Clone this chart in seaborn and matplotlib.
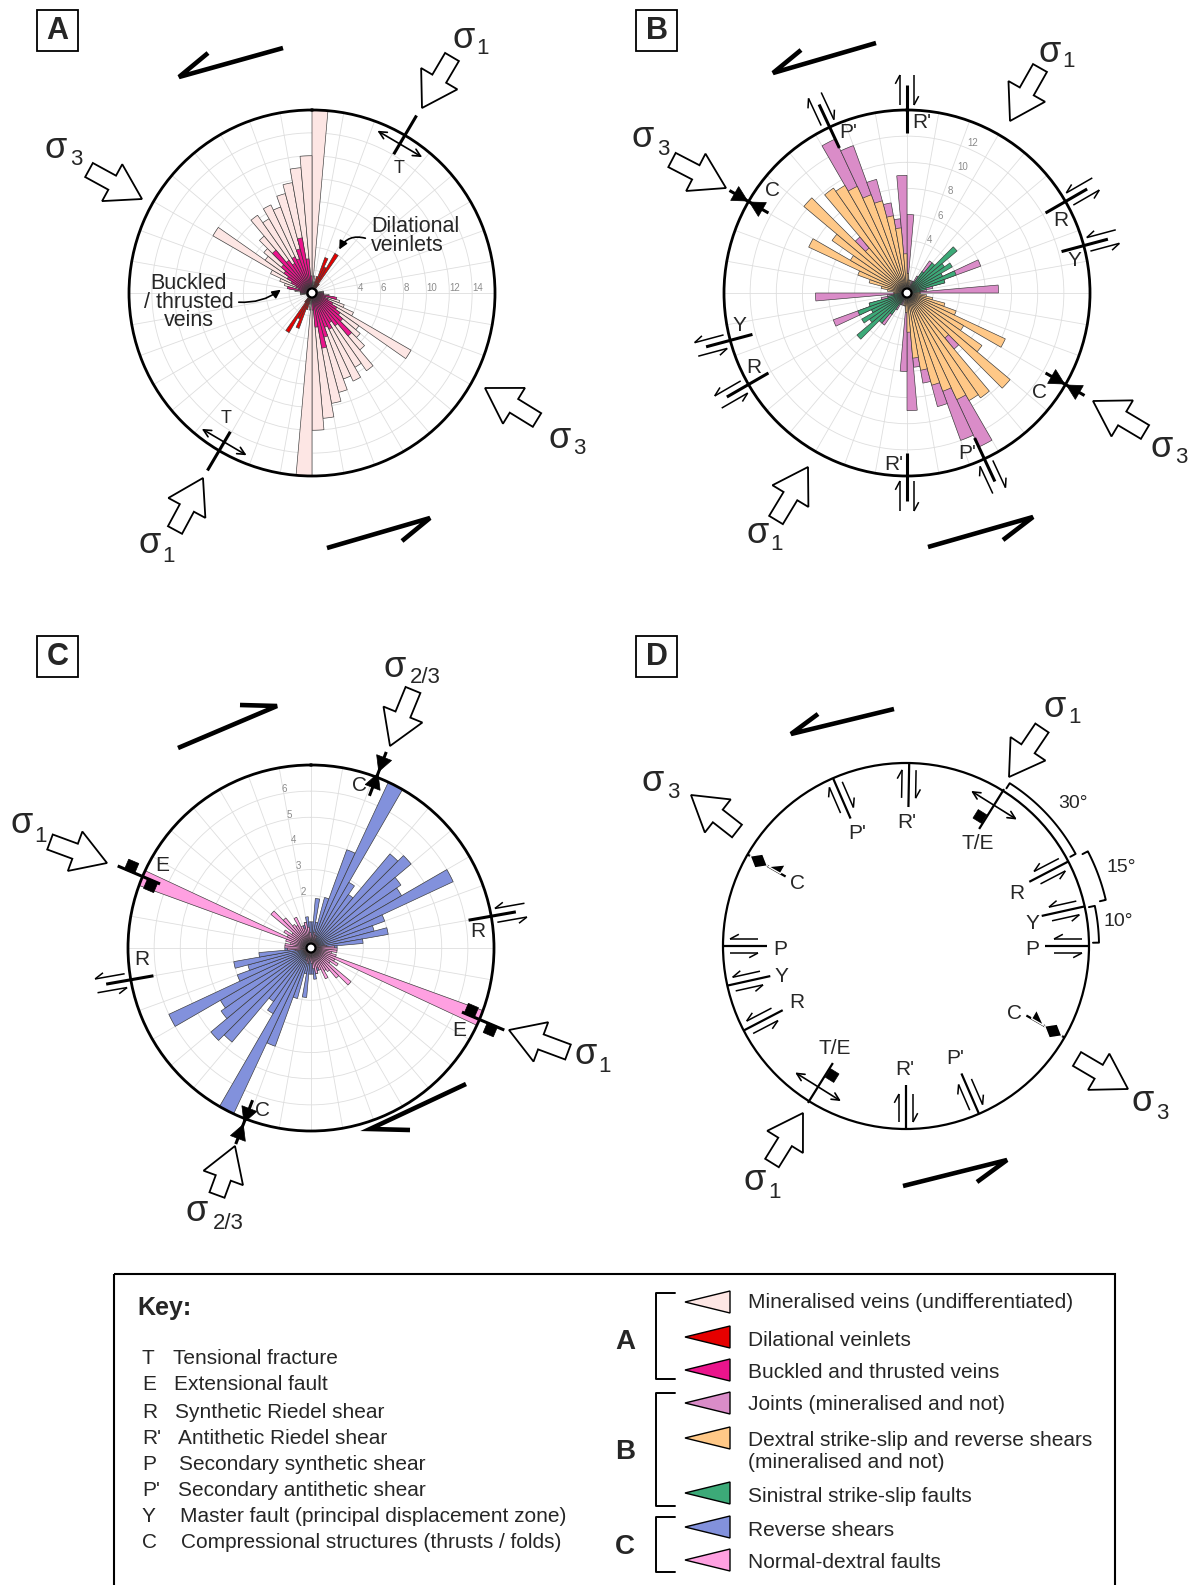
import numpy as np
import matplotlib
matplotlib.use("Agg")
import matplotlib.pyplot as plt
import seaborn as sns
from matplotlib.patches import Polygon, Rectangle, Circle, FancyArrowPatch

sns.set_theme(style="white")
plt.rcParams["font.family"] = ["Liberation Sans", "DejaVu Sans"]

# ---------------- data (5-degree bins 0..175, mirrored through 180) ----------------
bin_start_deg = list(range(0, 180, 5))

A_mineralised = [16, 1.5, 1, 0.5, 0.5, 0.5, 1, 0.5, 0.5, 0.5, 0.5, 0.5, 0.5, 0.5, 0.5, 0.5, 1, 1,
                 1, 1.5, 2, 2.5, 3, 4, 10, 5, 5.5, 6.5, 8.3, 7.5, 8.5, 8, 9, 9.8, 11, 12]
A_dilational = [0, 0, 0, 1.5, 3.3, 2.5, 4, 1, 0, 0, 0, 0, 0, 0, 0, 0, 0, 0,
                0, 0, 0, 0, 0, 0, 0, 0, 0, 0, 0, 0, 0, 0, 0, 0, 0, 0]
A_buckled = [0.5, 0, 0, 0, 0, 0, 0, 0, 0, 0, 0, 0, 0, 0, 0, 0, 0, 0.5,
             1, 1, 2.2, 1.2, 1.5, 2, 2.5, 3, 3.5, 4.9, 3.5, 3, 3.5, 3.2, 4, 4.9, 3, 1.5]

B_joints = [6, 1, 1, 0.5, 1, 1, 1.5, 3, 2, 1.5, 2, 2.5, 3, 6, 3, 2, 1.5, 7,
            1, 1, 1, 1.5, 1.5, 2, 3, 4, 5, 5.6, 5, 8, 13, 12, 9, 7, 5.7, 9]
B_dextral = [1.5, 1, 1, 0.5, 0.5, 0.5, 0.5, 0.5, 0.5, 0.5, 0.5, 0.5, 0.5, 0.5, 0.5, 0.5, 1, 1,
             1, 1.5, 2, 3, 4, 8.3, 5, 7, 10.3, 4.5, 9.8, 9.5, 9, 8, 7.3, 6, 5, 3]
B_sinistral = [0, 0, 0, 0, 0, 0.5, 1, 2, 3, 5, 3.5, 4, 3, 4, 3, 1.5, 1, 0.5,
               0, 0.5, 0, 0, 0, 0, 0, 0, 0, 0, 0, 0, 0, 0, 0, 0, 0, 0]

C_reverse = [1, 1.9, 1, 2, 4, 7, 2.9, 2.5, 4.7, 5, 4.2, 4, 6, 3, 2.5, 3, 2, 1,
             0.8, 0.6, 0.5, 0.5, 0.5, 0.6, 0.6, 0.7, 0.6, 0.7, 0.8, 0.8, 0.6, 0.8, 0.9, 1, 1.2, 1]
C_normal = [0.5, 0.3, 0.6, 0.4, 0.5, 0.3, 0.3, 0.3, 0.3, 0.3, 0.3, 0.3, 0.3, 0.3, 0.3, 0.3, 0.6, 0.9,
            1, 1, 0.8, 1, 7, 1, 1.2, 0.9, 2, 1.5, 1.1, 1, 1.3, 0.9, 0.8, 1, 0.8, 0.6]

A_rticks = [2, 4, 6, 8, 10, 12, 14]
A_rlabels = ["", "4", "6", "8", "10", "12", "14"]
B_rticks = [2, 4, 6, 8, 10, 12]
B_rlabels = ["", "4", "6", "8", "10", "12"]
C_rticks = [1, 2, 3, 4, 5, 6]
C_rlabels = ["", "2", "3", "4", "5", "6"]

key_letters = ["T", "E", "R", "R'", "P", "P'", "Y", "C"]
key_descs = ["Tensional fracture", "Extensional fault", "Synthetic Riedel shear",
             "Antithetic Riedel shear", "Secondary synthetic shear", "Secondary antithetic shear",
             "Master fault (principal displacement zone)", "Compressional structures (thrusts / folds)"]
legend_names = ["Mineralised veins (undifferentiated)", "Dilational veinlets", "Buckled and thrusted veins",
                "Joints (mineralised and not)", "Dextral strike-slip and reverse shears",
                "Sinistral strike-slip faults", "Reverse shears", "Normal-dextral faults"]
legend_extra = "(mineralised and not)"
colors = {"min": "#FDE6E4", "dil": "#E60000", "buck": "#EB148C", "joint": "#DA8CC8",
          "dex": "#FFC887", "sin": "#3CAA78", "rev": "#8291DC", "norm": "#FFA0E1"}
legend_colors = [colors[k] for k in ["min", "dil", "buck", "joint", "dex", "sin", "rev", "norm"]]

# ---------------- figure ----------------
W, H = 1192, 1585
fig = plt.figure(figsize=(W / 100, H / 100), dpi=100)
R0 = 183
cA, cB, cC, cD = (312, 293), (907, 293), (311, 948), (906, 946)


def rose(c, rmax, layers, rticks, rlabels, rang):
    cx, cy = c
    ax = fig.add_axes([(cx - R0) / W, (H - cy - R0) / H, 2 * R0 / W, 2 * R0 / H], projection="polar")
    ax.set_theta_zero_location("N")
    ax.set_theta_direction(-1)
    theta = np.deg2rad(np.array(bin_start_deg + [b + 180 for b in bin_start_deg], float))
    for vals, col, z in layers:
        h = np.array(list(vals) + list(vals), float)
        m = h > 0
        ax.bar(theta[m], h[m], width=np.deg2rad(5), align="edge", color=col,
               edgecolor="#383838", linewidth=0.45, zorder=z)
    ax.set_ylim(0, rmax)
    ang = np.arange(0, 360, 10)
    ax.set_thetagrids(ang, labels=[""] * len(ang))
    ax.set_rgrids(rticks, labels=rlabels, angle=rang)
    ax.tick_params(axis="y", labelsize=7, labelcolor="#8c8c8c", pad=0)
    ax.grid(True, color="#dedede", linewidth=0.6)
    ax.set_axisbelow(True)
    ax.set_facecolor("white")
    sp = ax.spines["polar"]
    sp.set_linewidth(2.0)
    sp.set_color("black")
    sp.set_zorder(10)
    return ax


rose(cA, 16, [(A_mineralised, colors["min"], 2), (A_buckled, colors["buck"], 3),
              (A_dilational, colors["dil"], 4)], A_rticks, A_rlabels, 90)
rose(cB, 14, [(B_joints, colors["joint"], 2), (B_dextral, colors["dex"], 3),
              (B_sinistral, colors["sin"], 4)], B_rticks, B_rlabels, 22.6)
rose(cC, 7, [(C_reverse, colors["rev"], 2), (C_normal, colors["norm"], 3)],
     C_rticks, C_rlabels, 349)

ov = fig.add_axes([0, 0, 1, 1])
ov.set_xlim(0, W)
ov.set_ylim(H, 0)
ov.axis("off")
ov.set_zorder(20)
ov.patch.set_alpha(0)


def P(c, r, az):
    a = np.deg2rad(az)
    return np.array([c[0] + r * np.sin(a), c[1] - r * np.cos(a)])


def Uv(az):
    a = np.deg2rad(az)
    return np.array([np.sin(a), -np.cos(a)])


def Tv(az):
    a = np.deg2rad(az)
    return np.array([np.cos(a), np.sin(a)])


def seg(p, q, lw=2.0):
    ov.plot([p[0], q[0]], [p[1], q[1]], color="black", lw=lw, solid_capstyle="butt", zorder=6)


def harpoon(p, q, side, lw=1.1, barb=10, ang=28):
    seg(p, q, lw)
    d = (q - p) / np.linalg.norm(q - p)
    a = np.deg2rad(ang)
    b = q - barb * np.cos(a) * d + barb * np.sin(a) * side
    seg(q, b, lw)


def lab(c, r, az, s, fs=15):
    x, y = P(c, r, az)
    ov.text(x, y, s, fontsize=fs, ha="center", va="center", zorder=7)


def shear(c, az, kind, inside, text, lr, laz, line_lw=2.2, harp_lw=1.1, off=7, fs=15):
    if inside:
        r1, r2, a1, a2 = R0 - 44, R0, R0 - 35, R0 - 7
    else:
        r1, r2, a1, a2 = R0 - 23, R0 + 25, R0 + 5, R0 + 35
    seg(P(c, r1, az), P(c, r2, az), line_lw)
    t = Tv(az)
    for s in (-1, 1):
        outward = (s == 1) if kind == "syn" else (s == -1)
        pa = P(c, a1, az) + s * off * t
        pb = P(c, a2, az) + s * off * t
        if outward:
            harpoon(pa, pb, s * t, harp_lw)
        else:
            harpoon(pb, pa, s * t, harp_lw)
    lab(c, lr, laz, text, fs)


def sq(ctr, size, az):
    u, t = Uv(az), Tv(az)
    h = size / 2
    pts = [ctr + h * u + h * t, ctr + h * u - h * t, ctr - h * u - h * t, ctr - h * u + h * t]
    ov.add_patch(Polygon(pts, closed=True, fc="black", ec="black", lw=0.5, zorder=7))


def tension(c, az, r1, r2, ra, L, lw=2.2, square=None):
    seg(P(c, r1, az), P(c, r2, az), lw)
    m = P(c, ra, az)
    t = Tv(az)
    ov.annotate("", xy=tuple(m + L / 2 * t), xytext=tuple(m - L / 2 * t),
                arrowprops=dict(arrowstyle="<->,head_length=0.45,head_width=0.22", color="black",
                                lw=1.2, shrinkA=0, shrinkB=0), zorder=7)
    if square is not None:
        rs, offs, size = square
        sq(P(c, rs, az) + offs * t, size, az)


def tri(m, u, t, L, hw, sign):
    pts = [m + sign * 1 * u, m + sign * L * u + hw * t, m + sign * L * u - hw * t]
    ov.add_patch(Polygon(pts, closed=True, fc="black", ec="black", lw=0.5, zorder=7))


def comp(c, az, r1, r2, rm, lw=2.2, L=16, hw=8):
    seg(P(c, r1, az), P(c, r2, az), lw)
    u, t = Uv(az), Tv(az)
    m = P(c, rm, az)
    tri(m, u, t, L, hw, 1)
    tri(m, u, t, L, hw, -1)


def efault(c, az, r1, r2):
    seg(P(c, r1, az), P(c, r2, az), 2.2)
    t = Tv(az)
    sq(P(c, 197, az) + 5 * t, 11, az)
    sq(P(c, 172, az) - 5 * t, 11, az)


def block(tip, tail, hl=34, hw=42, sw=16):
    tip = np.array(tip, float)
    tail = np.array(tail, float)
    d = tip - tail
    d /= np.linalg.norm(d)
    n = np.array([-d[1], d[0]])
    base = tip - hl * d
    pts = [tail + sw / 2 * n, base + sw / 2 * n, base + hw / 2 * n, tip,
           base - hw / 2 * n, base - sw / 2 * n, tail - sw / 2 * n]
    ov.add_patch(Polygon(pts, closed=True, fc="white", ec="black", lw=1.3, joinstyle="miter", zorder=8))


def sigma(sx, sy, sub, bx, by):
    ov.text(sx, sy, "σ", fontsize=26, ha="center", va="baseline", zorder=8)
    ov.text(bx + 1, by, sub, fontsize=16, ha="center", va="baseline", zorder=8)


def sense(tail, tip, barb):
    ov.plot([tail[0], tip[0], barb[0]], [tail[1], tip[1], barb[1]], color="black", lw=3.3,
            solid_joinstyle="miter", solid_capstyle="butt", zorder=6)


def panel_box(x, y, letter):
    ov.add_patch(Rectangle((x, y), 41, 41, fill=False, ec="black", lw=1.3, zorder=8))
    ov.text(x + 20.5, y + 21, letter, fontsize=22, fontweight="bold", ha="center", va="center", zorder=8)


# centre dots
for c in (cA, cB, cC):
    ov.add_patch(Circle(c, 4.5, fc="white", ec="black", lw=1.6, zorder=9))

# D circle
ov.add_patch(Circle(cD, R0, fill=False, ec="black", lw=1.6, zorder=5))

# panel letters
panel_box(37, 10, "A")
panel_box(636, 10, "B")
panel_box(37, 636, "C")
panel_box(636, 636, "D")

# ---- shear sense half arrows ----
sense((283, 48), (179, 77), (208, 53))
sense((327, 548), (430, 518), (402, 541))
sense((876, 43), (773, 73), (801, 50))
sense((928, 547), (1033, 517), (1003, 540))
sense((178, 748), (277, 706), (240, 705))
sense((466, 1084), (370, 1129), (410, 1130))
sense((894, 709), (791, 734), (818, 714))
sense((903, 1186), (1007, 1160), (977, 1182))

# ---- stress arrows and labels ----
block((422, 108), (452, 57)); sigma(464, 48, "1", 482, 54)
block((142, 199), (89, 170)); sigma(56, 158, "3", 75, 165)
block((203, 478), (175, 530)); sigma(150, 553, "1", 168, 562)
block((485, 388), (537, 420)); sigma(560, 448, "3", 578, 454)

block((1010, 121), (1040, 68)); sigma(1050, 62, "1", 1068, 67)
block((726, 188), (672, 160)); sigma(643, 147, "3", 662, 155)
block((808, 467), (776, 520)); sigma(758, 543, "1", 775, 550)
block((1093, 401), (1145, 432)); sigma(1162, 457, "3", 1180, 463)

block((390, 746), (413, 690)); sigma(395, 677, "2/3", 424, 683)
block((107, 863), (50, 842)); sigma(22, 833, "1", 39, 842)
block((509, 1030), (568, 1052)); sigma(586, 1064, "1", 604, 1072)
block((235, 1146), (217, 1195)); sigma(197, 1221, "2/3", 227, 1229)

block((1009, 777), (1042, 728)); sigma(1055, 717, "1", 1073, 723)
block((691, 795), (737, 831)); sigma(653, 791, "3", 672, 798)
block((1128, 1089), (1077, 1059)); sigma(1143, 1111, "3", 1161, 1119)
block((803, 1113), (772, 1163)); sigma(755, 1190, "1", 774, 1198)

# ---- panel A markers ----
tension(cA, 30.5, 161, 206, 173, 52)
lab(cA, 152, 35, "T", 13)
tension(cA, 210.5, 161, 206, 173, 52)
lab(cA, 152, 214.5, "T", 13)
ov.text(371, 236, "Dilational\nveinlets", fontsize=15.5, ha="left", va="center", linespacing=0.92, zorder=8)
ov.add_patch(FancyArrowPatch((368, 239), (338, 252), connectionstyle="arc3,rad=0.45",
                             arrowstyle="-|>,head_length=5,head_width=2.5", color="black", lw=1.2, zorder=8))
ov.text(189, 302, "Buckled\n/ thrusted\nveins", fontsize=15.5, ha="center", va="center", linespacing=0.85, zorder=8)
ov.add_patch(FancyArrowPatch((236, 302), (283, 288), connectionstyle="arc3,rad=0.2",
                             arrowstyle="-|>,head_length=5,head_width=2.5", color="black", lw=1.2, zorder=8))

# ---- panel B markers ----
shear(cB, 0, "anti", False, "R'", 171, 5)
shear(cB, 180, "anti", False, "R'", 172, 184.5)
shear(cB, 335, "anti", False, "P'", 171, 340)
shear(cB, 155, "anti", False, "P'", 171, 159.5)
shear(cB, 60, "syn", False, "R", 170, 64.6)
shear(cB, 240, "syn", False, "R", 170, 244)
shear(cB, 75, "syn", False, "Y", 171, 79)
shear(cB, 255, "syn", False, "Y", 171, 259)
comp(cB, 300, 160, 205, 183); lab(cB, 169, 307.5, "C")
comp(cB, 120, 160, 205, 183); lab(cB, 166, 127, "C")

# ---- panel C markers ----
comp(cC, 21, 163, 210, 188); lab(cC, 170, 16.5, "C")
comp(cC, 201, 163, 210, 188); lab(cC, 170, 196.5, "C")
efault(cC, 293, 164, 210); lab(cC, 170, 299, "E")
efault(cC, 113, 164, 210); lab(cC, 170, 119, "E")
shear(cC, 80, "syn", False, "R", 168, 84.5)
shear(cC, 260, "syn", False, "R", 170, 266)

# ---- panel D markers ----
shear(cD, 1, "anti", True, "R'", 124, 0.5, line_lw=1.6)
shear(cD, 180, "anti", True, "R'", 124, 180.5, line_lw=1.6)
shear(cD, 336.5, "anti", True, "P'", 123, 336.5, line_lw=1.6)
shear(cD, 156.5, "anti", True, "P'", 123, 156.5, line_lw=1.6)
shear(cD, 62.5, "syn", True, "R", 123, 64.5, line_lw=1.6)
shear(cD, 242.5, "syn", True, "R", 123, 242.5, line_lw=1.6)
shear(cD, 77.5, "syn", True, "Y", 128, 80, line_lw=1.6)
shear(cD, 257.5, "syn", True, "Y", 128, 256, line_lw=1.6)
shear(cD, 90, "syn", True, "P", 126, 91.5, line_lw=1.6)
shear(cD, 270, "syn", True, "P", 126, 268.5, line_lw=1.6)
tension(cD, 32, 138, 185, 166, 54, lw=1.6, square=(149, -6, 10)); lab(cD, 125, 35, "T/E")
tension(cD, 212, 138, 185, 166, 54, lw=1.6, square=(149, -6, 10)); lab(cD, 125, 215, "T/E")
for az, laz, lr, side in ((120, 122, 128, -1), (300, 300, 125, 1)):
    seg(P(cD, 139, az), P(cD, 183, az), 1.6)
    u, t = Uv(az), Tv(az)
    m = P(cD, 170, az)
    ov.add_patch(Polygon([m + 10 * u, m + 8 * t, m - 10 * u, m - 8 * t], closed=True, fc="black", zorder=7))
    m2 = P(cD, 152, az)
    ov.add_patch(Polygon([m2 + 7 * u, m2 - 7 * u + side * 10 * t, m2 - 7 * u], closed=True, fc="black", zorder=7))
    lab(cD, lr, laz, "C")


def bracket(c, r, az1, az2, tick=6, lw=1.4):
    a = np.linspace(az1, az2, 40)
    pts = np.array([P(c, r, x) for x in a])
    p1 = P(c, r - tick, az1)
    p2 = P(c, r - tick, az2)
    xs = [p1[0]] + list(pts[:, 0]) + [p2[0]]
    ys = [p1[1]] + list(pts[:, 1]) + [p2[1]]
    ov.plot(xs, ys, color="black", lw=lw, zorder=6)


bracket(cD, 193, 32.5, 61.5)
bracket(cD, 205, 62.5, 77)
bracket(cD, 193, 78, 89)
lab(cD, 219, 49.5, "30°", 14)
lab(cD, 229, 70, "15°", 14)
lab(cD, 214, 83.5, "10°", 14)

# ---------------- key ----------------
ov.add_patch(Rectangle((114, 1274), 1001, 330, fill=False, ec="black", lw=1.5, zorder=8))
ov.text(137, 1308, "Key:", fontsize=18, fontweight="bold", ha="left", va="center", zorder=8)
key_y = [1358, 1385, 1412, 1438, 1465, 1491, 1517, 1542]
desc_x = [173, 174, 175, 178, 179, 178, 180, 181]
for i, (l, d) in enumerate(zip(key_letters, key_descs)):
    ov.text(142, key_y[i], l, fontsize=15, ha="left", va="center", zorder=8)
    ov.text(desc_x[i], key_y[i], d, fontsize=15, ha="left", va="center", zorder=8)

tri_y = [1302, 1337, 1370, 1403, 1438, 1493, 1527, 1560]
txt_y = [1303, 1340, 1373, 1405, 1440, 1496, 1530, 1563]
for col, name, ty, yy in zip(legend_colors, legend_names, tri_y, txt_y):
    ov.add_patch(Polygon([(685, ty), (730, ty - 11), (730, ty + 11)], closed=True, fc=col,
                         ec="black", lw=1.0, zorder=8))
    ov.text(748, yy, name, fontsize=15, ha="left", va="center", zorder=8)
ov.text(748, 1463, legend_extra, fontsize=15, ha="left", va="center", zorder=8)

for (y1, y2, ly, L) in ((1293, 1379, 1342, "A"), (1393, 1506, 1452, "B"), (1517, 1572, 1547, "C")):
    ov.plot([675, 656, 656, 675], [y1, y1, y2, y2], color="black", lw=1.4, zorder=8)
    ov.text(625, ly, L, fontsize=20, fontweight="bold", ha="center", va="center", zorder=8)

fig.savefig("out.png", dpi=100)
